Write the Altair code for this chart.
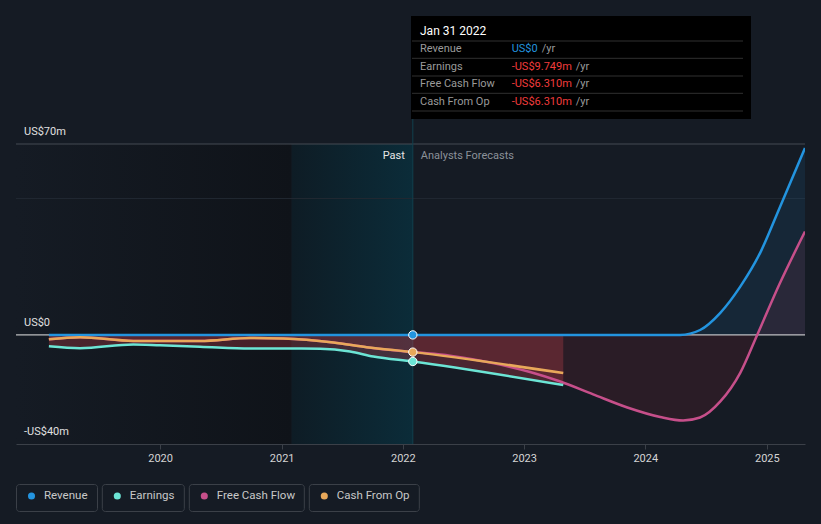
import altair as alt
import pandas as pd
import jinja2

FONT = "Roboto"
BG = "#151b24"

# ---------------- data ----------------
series_names = ["Revenue", "Earnings", "Free Cash Flow", "Cash From Op"]
series_colors = ["#2394df", "#6ce5d5", "#c64f8a", "#e8a85a"]

rev_dates = ["2019-01-31", "2022-01-31", "2024-04-15", "2024-06-14", "2024-08-14",
             "2024-10-13", "2024-12-12", "2025-02-10", "2025-04-26"]
rev_vals = [0, 0, 0, 1.8, 8.1, 17.7, 30.1, 47.0, 68.5]

earn_dates = ["2019-01-31", "2019-05-05", "2019-10-12", "2020-01-01", "2020-04-30",
              "2020-09-28", "2021-01-27", "2021-04-27", "2021-07-26", "2021-10-04",
              "2022-01-31", "2023-04-29"]
earn_vals = [-4.2, -4.9, -3.5, -3.8, -4.3, -5.0, -5.0, -5.1, -6.1, -7.9, -9.749, -18.4]

cfo_dates = ["2019-01-31", "2019-05-05", "2019-10-12", "2020-04-30", "2020-09-28",
             "2021-01-06", "2021-06-06", "2021-09-14", "2022-01-31", "2023-04-29"]
cfo_vals = [-1.6, -0.85, -2.2, -2.2, -1.1, -1.3, -2.8, -4.5, -6.31, -14.0]

fcf_dates = ["2019-01-31", "2019-05-05", "2019-10-12", "2020-04-30", "2020-09-28",
             "2021-01-06", "2021-06-06", "2021-09-14", "2022-01-31", "2022-05-23",
             "2022-10-21", "2023-01-19", "2023-04-20", "2023-07-28", "2023-11-08",
             "2024-02-15", "2024-04-24", "2024-06-14", "2024-08-14", "2024-10-13",
             "2024-12-03", "2025-02-10", "2025-04-26"]
fcf_vals = [-1.6, -0.85, -2.2, -2.2, -1.1, -1.3, -2.8, -4.5, -6.31, -7.6,
            -10.9, -13.6, -17.1, -21.8, -26.6, -30.1, -31.4, -30.3, -24.4, -13.9,
            0, 19.1, 37.9]

now_date = "2022-01-31"
past_start = "2021-01-31"
dom_start = "2018-10-24"
dom_end = "2025-04-26"
tooltip_title = "Jan 31 2022"
now_vals = [0, -9.749, -6.310, -6.310]   # Revenue, Earnings, FCF, CFO at now

y_ticks = [70, 0, -40]
grid_vals = [70, 50]
grid_colors = ["#454a52", "#222932"]
year_ticks = [2020, 2021, 2022, 2023, 2024, 2025]

# ---------------- scales ----------------
W, H = 789, 300
xscale = alt.Scale(type="utc",
                   domain=[alt.DateTime(year=2018, month=10, date=24, utc=True),
                           alt.DateTime(year=2025, month=4, date=26, utc=True)])
xaxis = alt.Axis(values=[alt.DateTime(year=y, month=1, date=1, utc=True) for y in year_ticks],
                 format="%Y", title=None, grid=False, domainColor="#3b4048",
                 tickColor="#3b4048", tickSize=5, labelColor="#d4d4d4", labelFontSize=11,
                 labelFont=FONT, labelPadding=3)
yscale = alt.Scale(domain=[-40, 70], nice=False, zero=False)


def X(field):
    return alt.X(field, scale=xscale, axis=xaxis)


def Y(field):
    return alt.Y(field, scale=yscale, axis=None)


def sdf(dates, vals):
    return pd.DataFrame({"date": dates, "value": vals})


rev_df = sdf(rev_dates, rev_vals)
earn_df = sdf(earn_dates, earn_vals)
cfo_df = sdf(cfo_dates, cfo_vals)
fcf_df = sdf(fcf_dates, fcf_vals)

layers = []

# background shading
left_bg = alt.Chart(pd.DataFrame({"s": [dom_start], "e": [past_start]})).mark_rect(
    fill=alt.Gradient(gradient="linear", x1=0, y1=0, x2=1, y2=0,
                      stops=[alt.GradientStop(color="#151b24", offset=0),
                             alt.GradientStop(color="#0f1319", offset=1)])
).encode(x=X("s:T"), x2="e:T", y=alt.value(0), y2=alt.value(H))
past_bg = alt.Chart(pd.DataFrame({"s": [past_start], "e": [now_date]})).mark_rect(
    fill=alt.Gradient(gradient="linear", x1=0, y1=0, x2=1, y2=0,
                      stops=[alt.GradientStop(color="#0e1c25", offset=0),
                             alt.GradientStop(color="#0b2c39", offset=1)])
).encode(x=X("s:T"), x2="e:T", y=alt.value(0), y2=alt.value(H))
layers += [left_bg, past_bg]

# grid lines
grid = alt.Chart(pd.DataFrame({"v": grid_vals, "c": grid_colors})).mark_rule(strokeWidth=1).encode(
    y=Y("v:Q"), color=alt.Color("c:N", scale=None))
layers.append(grid)

# now line
now_line = alt.Chart(pd.DataFrame({"date": [now_date]})).mark_rule(color="#10404e", strokeWidth=1).encode(
    x=X("date:T"), y=alt.value(-25), y2=alt.value(H))
layers.append(now_line)

# areas
fcf_area = alt.Chart(fcf_df).mark_area(color="#c8283c", opacity=0.12, interpolate="monotone", clip=True).encode(
    x=X("date:T"), y=Y("value:Q"), y2=alt.datum(0))
rev_area = alt.Chart(rev_df).mark_area(color="#2394df", opacity=0.10, interpolate="monotone", clip=True).encode(
    x=X("date:T"), y=Y("value:Q"), y2=alt.datum(0))
earn_area = alt.Chart(earn_df).mark_area(color="#d9434f", opacity=0.28, interpolate="monotone", clip=True).encode(
    x=X("date:T"), y=Y("value:Q"), y2=alt.datum(0))
layers += [fcf_area, rev_area, earn_area]

# zero line
zero = alt.Chart(pd.DataFrame({"v": [0]})).mark_rule(color="#e6e6e6", strokeWidth=1).encode(y=Y("v:Q"))
layers.append(zero)


# lines
def line(df, color):
    return alt.Chart(df).mark_line(color=color, strokeWidth=2.5, interpolate="monotone", clip=True).encode(
        x=X("date:T"), y=Y("value:Q"))


layers += [line(fcf_df, series_colors[2]), line(rev_df, series_colors[0]),
           line(earn_df, series_colors[1]), line(cfo_df, series_colors[3])]

# now dots
dots_df = pd.DataFrame({"date": [now_date] * 3,
                        "value": [now_vals[0], now_vals[3], now_vals[1]],
                        "c": [series_colors[0], series_colors[3], series_colors[1]]})
dots = alt.Chart(dots_df).mark_circle(size=70, opacity=1, stroke="white", strokeWidth=1).encode(
    x=X("date:T"), y=Y("value:Q"), color=alt.Color("c:N", scale=None))
layers.append(dots)

# Past / Analysts Forecasts labels
past_lbl = alt.Chart(pd.DataFrame({"date": [now_date], "t": ["Past"]})).mark_text(
    align="right", baseline="middle", dx=-8, font=FONT, fontSize=11, color="#e6e6e6").encode(
    x=X("date:T"), y=alt.value(12), text="t:N")
fc_lbl = alt.Chart(pd.DataFrame({"date": [now_date], "t": ["Analysts Forecasts"]})).mark_text(
    align="left", baseline="middle", dx=8, font=FONT, fontSize=11, color="#8b9199").encode(
    x=X("date:T"), y=alt.value(12), text="t:N")
layers += [past_lbl, fc_lbl]


# y labels
def money(v):
    if v == 0:
        return "US$0"
    return ("-" if v < 0 else "") + "US$" + f"{abs(v):g}m"


ylab = alt.Chart(pd.DataFrame({"v": y_ticks, "t": [money(v) for v in y_ticks]})).mark_text(
    align="left", baseline="middle", dy=-12, font=FONT, fontSize=11, color="#e0e0e0").encode(
    x=alt.value(8), y=Y("v:Q"), text="t:N")
layers.append(ylab)

# tooltip box
box = alt.Chart(pd.DataFrame({"a": [0]})).mark_rect(color="#000000").encode(
    x=alt.value(395), x2=alt.value(735), y=alt.value(-128), y2=alt.value(-25))
layers.append(box)
ttl = alt.Chart(pd.DataFrame({"t": [tooltip_title]})).mark_text(
    align="left", baseline="middle", font=FONT, fontSize=12, color="#ffffff").encode(
    x=alt.value(404), y=alt.value(-113), text="t:N")
layers.append(ttl)
sep_y = [-103, -85.7, -68, -50.7, -33]
for sy in sep_y:
    layers.append(alt.Chart(pd.DataFrame({"a": [0]})).mark_rule(color="#303030", strokeWidth=1).encode(
        x=alt.value(396), x2=alt.value(727), y=alt.value(sy)))
row_y = [-94.7, -77.3, -59.7, -42.3]


def tip_val(v):
    if v == 0:
        return "US$0"
    return ("-" if v < 0 else "") + f"US${abs(v):.3f}m"


yr_x = [525.7, 559.7, 559.7, 559.7]
for i, name in enumerate(series_names):
    vcol = "#2394df" if now_vals[i] >= 0 else "#f03c3c"
    d = pd.DataFrame({"t": [name], "v": [tip_val(now_vals[i])], "u": ["/yr"]})
    base = alt.Chart(d)
    layers.append(base.mark_text(align="left", baseline="middle", font=FONT, fontSize=11, color="#9a9a9a").encode(
        x=alt.value(404), y=alt.value(row_y[i]), text="t:N"))
    layers.append(base.mark_text(align="left", baseline="middle", font=FONT, fontSize=11, color=vcol).encode(
        x=alt.value(495.7), y=alt.value(row_y[i]), text="v:N"))
    layers.append(base.mark_text(align="left", baseline="middle", font=FONT, fontSize=11, color="#9a9a9a").encode(
        x=alt.value(yr_x[i]), y=alt.value(row_y[i]), text="u:N"))

# legend
box_x0 = [0.5, 86.3, 173.3, 293.3]
box_x1 = [81.5, 168.3, 288.3, 403.3]
for i, name in enumerate(series_names):
    d = alt.Chart(pd.DataFrame({"t": [name]}))
    layers.append(d.mark_rect(fill=BG, stroke="#3b4048", strokeWidth=1, cornerRadius=3).encode(
        x=alt.value(box_x0[i]), x2=alt.value(box_x1[i]), y=alt.value(340.5), y2=alt.value(367.5)))
    layers.append(d.mark_circle(size=50, opacity=1, color=series_colors[i]).encode(
        x=alt.value(box_x0[i] + 15), y=alt.value(352)))
    layers.append(d.mark_text(align="left", baseline="middle", font=FONT, fontSize=11.5, color="#c8c8c8").encode(
        x=alt.value(box_x0[i] + 27.5), y=alt.value(352), text="t:N"))

chart = alt.layer(*layers).properties(
    width=W, height=H, background=BG,
    autosize=alt.AutoSizeParams(type="none"),
    padding={"left": 8, "top": 136, "right": 8, "bottom": 72},
).configure_view(stroke=None)

# page template: same scripts as the standard one, with a dark page background
PAGE = jinja2.Template("""<!DOCTYPE html>
<html>
<head>
  <style>
    html, body { background: """ + BG + """; }
    #{{ output_div }}.vega-embed { width: 100%; display: flex; }
  </style>
  <script type="text/javascript" src="{{ base_url }}/vega@{{ vega_version }}"></script>
  <script type="text/javascript" src="{{ base_url }}/vega-lite@{{ vegalite_version }}"></script>
  <script type="text/javascript" src="{{ base_url }}/vega-embed@{{ vegaembed_version }}"></script>
</head>
<body>
  <div id="{{ output_div }}"></div>
  <script>
    var spec = {{ spec }};
    var embedOpt = {{ embed_options }};
    vegaEmbed("#{{ output_div }}", spec, embedOpt).catch(function(error) {
      document.getElementById("{{ output_div }}").innerHTML = '<div style="color:red;">' + error + '</div>';
    });
  </script>
</body>
</html>
""")

chart.save("out.html", embed_options={"renderer": "svg", "actions": False}, template=PAGE)
